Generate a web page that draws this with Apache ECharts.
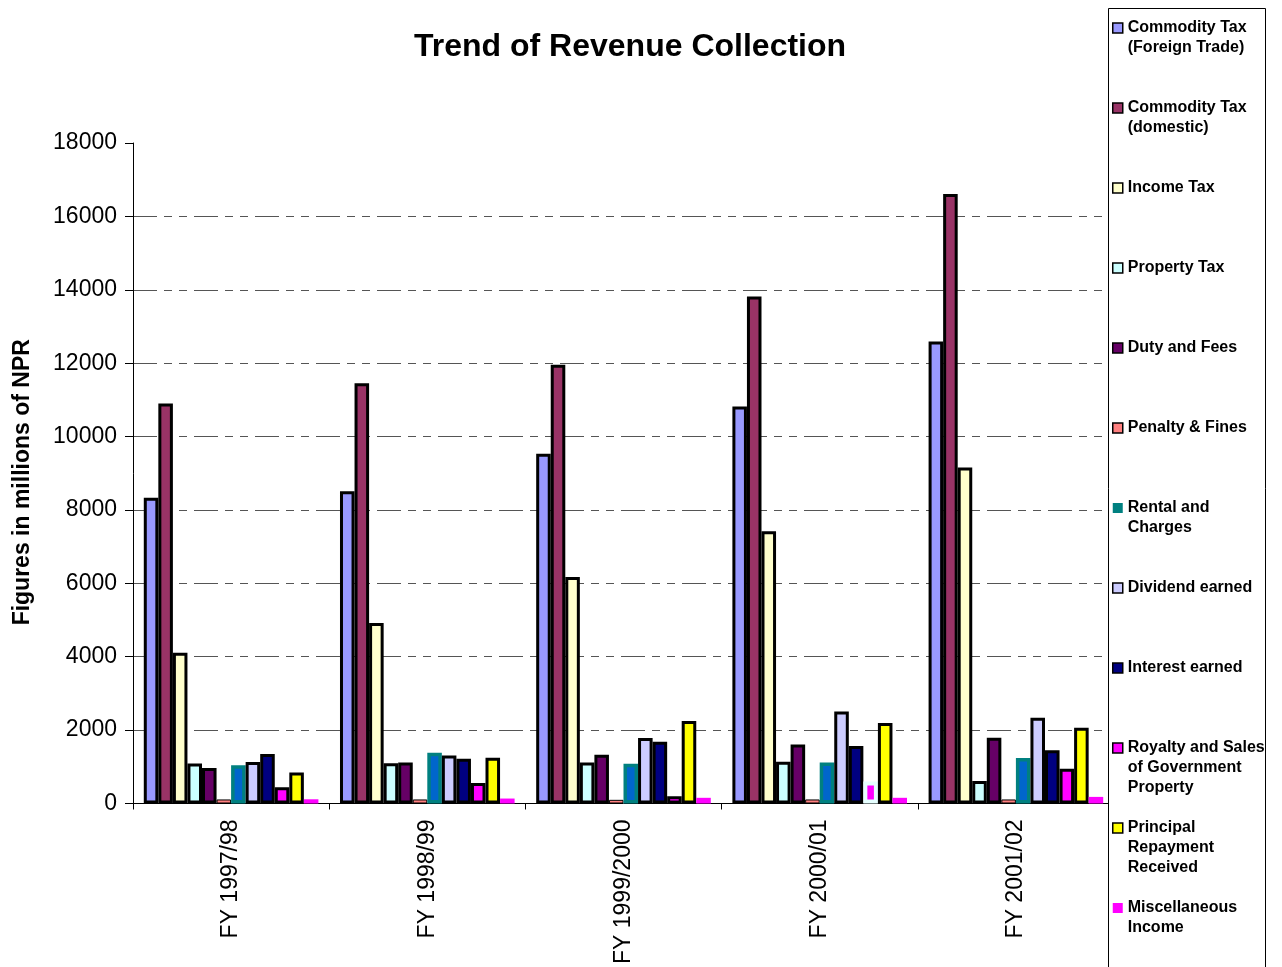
<!DOCTYPE html>
<html>
<head>
<meta charset="utf-8">
<script src="https://cdn.jsdelivr.net/npm/echarts@6/dist/echarts.min.js"></script>
<style>
html,body{margin:0;padding:0;background:#fff;}
#chart{width:1282px;height:967px;}
</style>
</head>
<body>
<div id="chart"></div>
<script>
const categories = ['FY 1997/98', 'FY 1998/99', 'FY 1999/2000', 'FY 2000/01', 'FY 2001/02'];
const seriesNames = [
  'Commodity Tax (Foreign Trade)', 'Commodity Tax (domestic)', 'Income Tax', 'Property Tax',
  'Duty and Fees', 'Penalty & Fines', 'Rental and Charges', 'Dividend earned',
  'Interest earned', 'Royalty and Sales of Government Property', 'Principal Repayment Received',
  'Miscellaneous Income'
];
const legendLines = [
  ['Commodity Tax', '(Foreign Trade)'], ['Commodity Tax', '(domestic)'], ['Income Tax'], ['Property Tax'],
  ['Duty and Fees'], ['Penalty & Fines'], ['Rental and', 'Charges'], ['Dividend earned'],
  ['Interest earned'], ['Royalty and Sales', 'of Government', 'Property'], ['Principal', 'Repayment', 'Received'],
  ['Miscellaneous', 'Income']
];
const yTicks = [0, 2000, 4000, 6000, 8000, 10000, 12000, 14000, 16000, 18000];

const commodityForeign   = [8330, 8510, 9530, 10820, 12590];
const commodityDomestic  = [10900, 11450, 11960, 13820, 16610];
const incomeTax          = [4110, 4920, 6170, 7420, 9160];
const propertyTax        = [1090, 1100, 1120, 1135, 610];
const dutyFees           = [970, 1115, 1330, 1610, 1795];
const penaltyFines       = [110, 110, 100, 110, 110];
const rentalCharges      = [1040, 1380, 1080, 1115, 1240];
const dividendEarned     = [1130, 1305, 1785, 2510, 2340];
const interestEarned     = [1350, 1220, 1680, 1570, 1450];
const royaltySales       = [440, 560, 200, 600, 950];
const principalRepayment = [845, 1250, 2250, 2195, 2065];
const miscIncome         = [115, 135, 155, 155, 180];

const allValues = [commodityForeign, commodityDomestic, incomeTax, propertyTax, dutyFees, penaltyFines,
  rentalCharges, dividendEarned, interestEarned, royaltySales, principalRepayment, miscIncome];

const fills = ['#9999FF', '#993366', '#FFFFCC', '#CCFFFF', '#660066', '#FF8080', '#0066CC', '#CCCCFF',
  '#000080', '#FF00FF', '#FFFF00', '#FF00FF'];

const FONT = 'Arial, "Liberation Sans", sans-serif';

function styleFor(i) {
  if (i === 6) return { color: fills[i], borderColor: '#008080', borderWidth: 3.5 };
  if (i === 11) return { color: fills[i], borderWidth: 0 };
  if (i === 5) return { color: fills[i], borderColor: '#000', borderWidth: 1 };
  return { color: fills[i], borderColor: '#000', borderWidth: 3 };
}

const series = seriesNames.map((name, i) => ({
  name: name,
  type: 'bar',
  barGap: '0%',
  barCategoryGap: '11%',
  itemStyle: styleFor(i),
  emphasis: { disabled: true },
  data: allValues[i].map((v, k) => {
    if (i === 9 && k === 3) {
      return { value: v, itemStyle: { color: '#FF00FF', borderColor: '#E6FFFF', borderWidth: 4 } };
    }
    return v;
  })
}));

const legendData = seriesNames.map((name, i) => {
  let st = { color: fills[i], borderColor: '#000', borderWidth: 1.5 };
  if (i === 6) st = { color: '#008080', borderColor: '#008080', borderWidth: 0 };
  if (i === 11) st = { color: '#FF00FF', borderColor: '#FF00FF', borderWidth: 0 };
  return { name: name, icon: 'rect', itemStyle: st };
});

const nameToLines = {};
seriesNames.forEach((n, i) => {
  const lines = legendLines[i].slice();
  while (lines.length < 3) lines.push('');
  nameToLines[n] = ['', ''].concat(lines).join('\n');
});

const chart = echarts.init(document.getElementById('chart'), null, { renderer: 'canvas' });
chart.setOption({
  animation: false,
  backgroundColor: '#fff',
  title: {
    text: 'Trend of Revenue Collection',
    left: 414,
    top: 31,
    padding: 0,
    textStyle: { fontFamily: FONT, fontSize: 32, fontWeight: 'bold', color: '#000' }
  },
  grid: { left: 133, right: 168, top: 143, bottom: 162, containLabel: false },
  graphic: [{
    type: 'rect',
    z: 3,
    shape: { x: 1108.5, y: 8.5, width: 157, height: 1000 },
    style: { fill: '#fff', stroke: '#000', lineWidth: 1 }
  }],
  legend: {
    orient: 'vertical',
    left: 1112,
    top: -22,
    padding: 0,
    z: 5,
    itemGap: -20,
    itemWidth: 10,
    itemHeight: 10,
    selectedMode: false,
    data: legendData,
    formatter: function (name) { return nameToLines[name]; },
    textStyle: { fontFamily: FONT, fontSize: 16, fontWeight: 'bold', color: '#000', lineHeight: 20 }
  },
  xAxis: {
    type: 'category',
    data: categories,
    axisLine: { show: true, lineStyle: { color: '#000', width: 1 } },
    axisTick: { show: true, length: 6, lineStyle: { color: '#000' } },
    axisLabel: { rotate: 90, interval: 0, margin: 16, fontFamily: FONT, fontSize: 23, color: '#000' },
    splitLine: { show: false }
  },
  yAxis: {
    type: 'value',
    min: yTicks[0],
    max: yTicks[yTicks.length - 1],
    interval: yTicks[1] - yTicks[0],
    name: 'Figures in millions of NPR',
    nameLocation: 'middle',
    nameGap: 99,
    nameRotate: 90,
    nameTextStyle: { fontFamily: FONT, fontSize: 23, fontWeight: 'bold', color: '#000', padding: [0, 18, 0, 0] },
    axisLine: { show: true, lineStyle: { color: '#000', width: 1 } },
    axisTick: { show: true, length: 8, lineStyle: { color: '#000' } },
    axisLabel: {
      margin: 16, fontFamily: FONT, fontSize: 23, color: '#000',
      formatter: function (v) { return String(v); }
    },
    splitLine: {
      show: true,
      showMinLine: false,
      showMaxLine: false,
      lineStyle: { color: '#555', width: 1, type: [24, 7, 8, 7, 8, 7] }
    }
  },
  series: series
});
</script>
</body>
</html>
